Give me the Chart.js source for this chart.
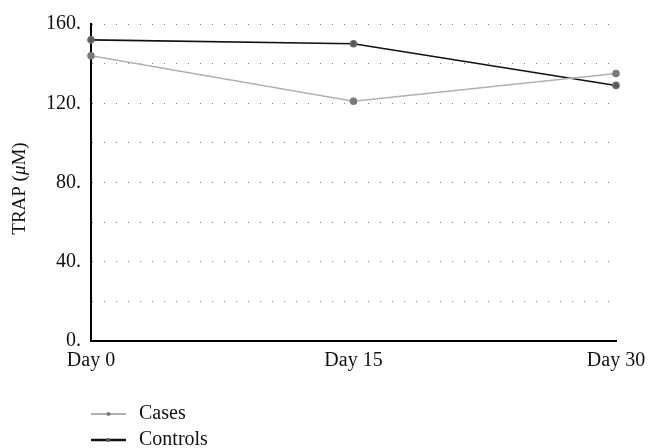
<!DOCTYPE html>
<html>
<head>
<meta charset="utf-8">
<script src="https://cdn.jsdelivr.net/npm/chart.js@4"></script>
<style>
  html, body { margin: 0; padding: 0; background: #fff; }
  #wrap { width: 658px; height: 448px; }
</style>
</head>
<body>
<div id="wrap"><canvas id="chart" width="658" height="448"></canvas></div>
<script>
// values
const days = ['Day 0', 'Day 15', 'Day 30'];
const cases = [144, 121, 135];
const controls = [152, 150, 129];
const yTicks = [0, 40, 80, 120, 160];

const FONT = "'Liberation Serif', 'DejaVu Serif', serif";

// legend drawn as a column under the plot, line sample with a dot in the middle
const sideLegend = {
    id: 'sideLegend',
    afterDraw(chart) {
        const ctx = chart.ctx;
        const x0 = chart.chartArea.left;
        let y = 414;
        chart.data.datasets.forEach(ds => {
            ctx.save();
            ctx.strokeStyle = ds.borderColor;
            ctx.lineWidth = ds.legendLineWidth;
            ctx.beginPath();
            ctx.moveTo(x0, y);
            ctx.lineTo(x0 + 35, y);
            ctx.stroke();
            ctx.fillStyle = ds.pointBackgroundColor;
            ctx.beginPath();
            ctx.arc(x0 + 17.5, y, 2, 0, Math.PI * 2);
            ctx.fill();
            ctx.fillStyle = '#111';
            ctx.font = '20px ' + FONT;
            ctx.textBaseline = 'middle';
            ctx.fillText(ds.label, x0 + 48, y);
            ctx.restore();
            y += 26;
        });
    }
};

// y title with an italic mu, so it is drawn by hand
const yTitle = {
    id: 'yTitle',
    afterDraw(chart) {
        const ctx = chart.ctx;
        const parts = [['TRAP (', ''], ['μ', 'italic '], ['M)', '']];
        ctx.save();
        ctx.translate(20, (chart.chartArea.top + chart.chartArea.bottom) / 2 + 6);
        ctx.rotate(-Math.PI / 2);
        ctx.textBaseline = 'middle';
        ctx.fillStyle = '#111';
        let total = 0;
        parts.forEach(p => { ctx.font = p[1] + '19px ' + FONT; total += ctx.measureText(p[0]).width; });
        let x = -total / 2;
        parts.forEach(p => {
            ctx.font = p[1] + '19px ' + FONT;
            ctx.fillText(p[0], x, 0);
            x += ctx.measureText(p[0]).width;
        });
        ctx.restore();
    }
};

new Chart(document.getElementById('chart'), {
    type: 'line',
    data: {
        labels: days,
        datasets: [
            {
                label: 'Cases',
                data: cases,
                borderColor: '#b0b0b0',
                borderWidth: 1.6,
                legendLineWidth: 2,
                pointBackgroundColor: '#7a7a7a',
                pointBorderColor: '#7a7a7a',
                pointRadius: 3,
                tension: 0
            },
            {
                label: 'Controls',
                data: controls,
                borderColor: '#111',
                borderWidth: 1.6,
                legendLineWidth: 2.5,
                pointBackgroundColor: '#555',
                pointBorderColor: '#6a6a6a',
                pointRadius: 3,
                tension: 0
            }
        ]
    },
    options: {
        responsive: false,
        animation: false,
        layout: { padding: { left: 0, right: 42, top: 24, bottom: 0 } },
        plugins: {
            legend: { display: false },
            tooltip: { enabled: false }
        },
        scales: {
            x: {
                offset: false,
                grid: { display: false },
                border: { display: true, color: '#000', width: 2 },
                ticks: {
                    color: '#111',
                    font: { family: FONT, size: 20 },
                    padding: 0,
                    maxRotation: 0
                },
                afterFit(scale) { scale.height = 107; }
            },
            y: {
                min: 0,
                max: 160,
                afterBuildTicks(scale) {
                    // dotted grid every 20, labels only on the 40s
                    const t = [];
                    for (let v = 0; v <= 160; v += 20) t.push({ value: v });
                    scale.ticks = t;
                },
                grid: {
                    color: '#7a7a7a',
                    lineWidth: 1,
                    drawTicks: false
                },
                border: { display: true, color: '#000', width: 2, dash: [1, 11] },
                ticks: {
                    color: '#111',
                    font: { family: FONT, size: 20 },
                    padding: 10,
                    callback: v => yTicks.includes(v) ? v + '.' : ''
                },
                afterFit(scale) { scale.width = 91; }
            }
        }
    },
    plugins: [sideLegend, yTitle]
});
</script>
</body>
</html>
